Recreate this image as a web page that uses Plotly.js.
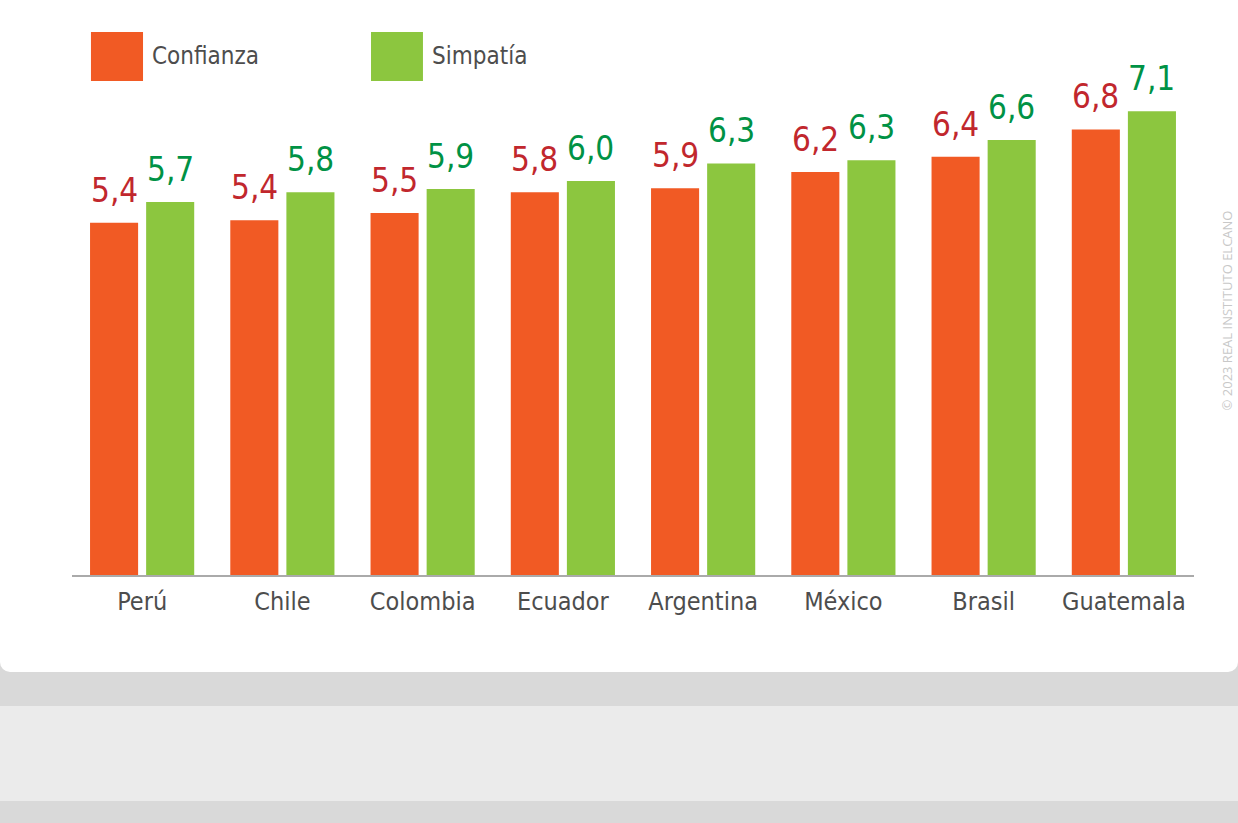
<!DOCTYPE html>
<html>
<head>
<meta charset="utf-8">
<script src="https://cdn.plot.ly/plotly-3.0.1.min.js"></script>
<style>
  html, body { margin: 0; padding: 0; width: 1238px; height: 823px; overflow: hidden; }
  body { background: #d9d9d9; position: relative; }
  #band1 { position: absolute; left: 0; top: 672px; width: 1238px; height: 34px; background: #d9d9d9; }
  #band2 { position: absolute; left: 0; top: 706px; width: 1238px; height: 95px; background: #ebebeb; }
  #band3 { position: absolute; left: 0; top: 801px; width: 1238px; height: 22px; background: #d9d9d9; }
  #chart { position: absolute; left: 0; top: 0; width: 1238px; height: 672px; background: #fff; border-radius: 0 0 10px 10px; overflow: hidden; }
</style>
</head>
<body>
<div id="band1"></div><div id="band2"></div><div id="band3"></div>
<div id="chart"></div>
<script>
const categories = ["Perú", "Chile", "Colombia", "Ecuador", "Argentina", "México", "Brasil", "Guatemala"];
const seriesNames = ["Confianza", "Simpatía"];
const confianza = [5.39, 5.43, 5.54, 5.86, 5.92, 6.17, 6.40, 6.82];
const simpatia  = [5.71, 5.86, 5.91, 6.03, 6.30, 6.35, 6.66, 7.10];
const confianzaLabels = ["5,4", "5,4", "5,5", "5,8", "5,9", "6,2", "6,4", "6,8"];
const simpatiaLabels  = ["5,7", "5,8", "5,9", "6,0", "6,3", "6,3", "6,6", "7,1"];

const FONT = "'DejaVu Sans Condensed', 'Liberation Sans Narrow', 'Arial Narrow', sans-serif";
const ORANGE = "#F15A24", GREEN = "#8CC63F";
const RED_TXT = "#C1272D", GREEN_TXT = "#009245", GREY_TXT = "#4d4d4d";

const traces = [
  { type: "bar", name: seriesNames[0], x: categories, y: confianza, marker: { color: ORANGE }, hoverinfo: "skip" },
  { type: "bar", name: seriesNames[1], x: categories, y: simpatia, marker: { color: GREEN }, hoverinfo: "skip" }
];

const annotations = [];
categories.forEach((c, i) => {
  annotations.push({ x: c, y: confianza[i], xref: "x", yref: "y", text: confianzaLabels[i], showarrow: false,
    xshift: -28, yshift: 11, yanchor: "bottom", font: { family: FONT, size: 33, color: RED_TXT } });
  annotations.push({ x: c, y: simpatia[i], xref: "x", yref: "y", text: simpatiaLabels[i], showarrow: false,
    xshift: 28, yshift: 11, yanchor: "bottom", font: { family: FONT, size: 33, color: GREEN_TXT } });
});
// legend labels
annotations.push({ xref: "paper", yref: "paper", x: 0.0695, y: 1.06, xanchor: "left", yanchor: "middle",
  text: seriesNames[0], showarrow: false, font: { family: FONT, size: 24, color: GREY_TXT } });
annotations.push({ xref: "paper", yref: "paper", x: 0.3190, y: 1.06, xanchor: "left", yanchor: "middle",
  text: seriesNames[1], showarrow: false, font: { family: FONT, size: 24, color: GREY_TXT } });
// copyright vertical
annotations.push({ xref: "paper", yref: "paper", x: 1.029, y: 0.539, xanchor: "center", yanchor: "middle",
  text: "© 2023 REAL INSTITUTO ELCANO", textangle: -90, showarrow: false,
  font: { family: "'Open Sans', sans-serif", size: 13, color: "#c8c8c8" } });

const shapes = [
  { type: "rect", xref: "paper", yref: "paper", x0: 0.0169, x1: 0.0633, y0: 1.008, y1: 1.108, fillcolor: ORANGE, line: { width: 0 } },
  { type: "rect", xref: "paper", yref: "paper", x0: 0.2665, x1: 0.3128, y0: 1.008, y1: 1.108, fillcolor: GREEN, line: { width: 0 } }
];

const layout = {
  width: 1238, height: 672,
  margin: { l: 72, r: 44, t: 85, b: 97, pad: 0 },
  paper_bgcolor: "rgba(0,0,0,0)", plot_bgcolor: "rgba(0,0,0,0)",
  barmode: "group", bargap: 0.2, bargroupgap: 0.143,
  showlegend: false,
  xaxis: {
    type: "category", range: [-0.5, 7.5], showline: true, linecolor: "#aaaaaa", linewidth: 2,
    ticks: "outside", ticklen: 3, tickcolor: "rgba(0,0,0,0)", showgrid: false, zeroline: false,
    tickfont: { family: FONT, size: 25, color: GREY_TXT }, fixedrange: true
  },
  yaxis: { range: [0, 7.5], visible: false, showgrid: false, zeroline: false, fixedrange: true },
  annotations: annotations,
  shapes: shapes
};

Plotly.newPlot("chart", traces, layout, { displayModeBar: false, staticPlot: true });
</script>
</body>
</html>
